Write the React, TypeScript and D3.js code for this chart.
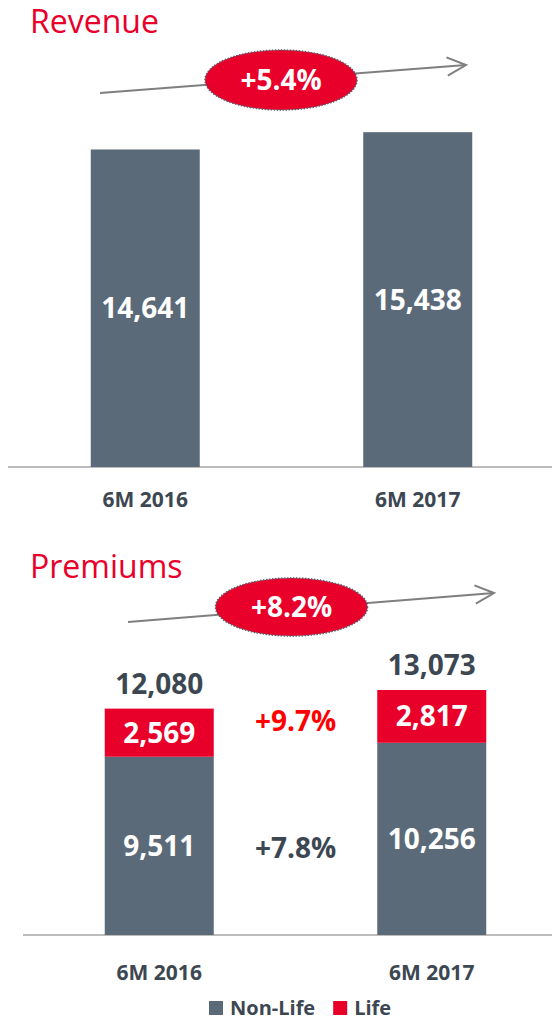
import { useEffect, useRef } from 'react'
import * as d3 from 'd3'

const categories = ['6M 2016', '6M 2017']
const revenue = [14641, 15438]
const nonLife = [9511, 10256]
const life = [2569, 2817]
const premiumTotals = [12080, 13073]
const revenueGrowth = '+5.4%'
const premiumGrowth = '+8.2%'
const nonLifeGrowth = '+7.8%'
const lifeGrowth = '+9.7%'
const legendLabels = ['Non-Life', 'Life']

const GRAY = '#5b6a79'
const DARK = '#3c4752'
const RED = '#e8002a'
const FONT = "'Open Sans', sans-serif"

function App() {
    const ref = useRef<SVGSVGElement>(null)

    useEffect(() => {
        const svg = d3.select(ref.current)
        svg.selectAll('*').remove()

        const fmt = d3.format(',')

        // growth arrow with the dotted red bubble
        const growthArrow = (x1, y1, x2, y2, cx, cy, rx, ry, label) => {
            svg.append('line')
                .attr('x1', x1).attr('y1', y1).attr('x2', x2).attr('y2', y2)
                .style('stroke', '#7f7f7f').style('stroke-width', 2)
            const ang = Math.atan2(y2 - y1, x2 - x1)
            const head = 21
            const spread = 0.45
            svg.append('path')
                .attr('d', d3.line()([
                    [x2 - head * Math.cos(ang - spread), y2 - head * Math.sin(ang - spread)],
                    [x2, y2],
                    [x2 - head * Math.cos(ang + spread), y2 - head * Math.sin(ang + spread)],
                ]))
                .style('fill', 'none').style('stroke', '#7f7f7f').style('stroke-width', 2)
            svg.append('ellipse')
                .attr('cx', cx).attr('cy', cy).attr('rx', rx).attr('ry', ry)
                .style('fill', RED).style('stroke', '#4f6070')
                .style('stroke-width', 1.5).style('stroke-dasharray', '1.5 1.5')
            svg.append('text')
                .attr('x', cx).attr('y', cy).attr('dy', '0.36em')
                .style('text-anchor', 'middle').style('font-family', FONT)
                .style('font-weight', 700).style('font-size', '28px').style('fill', '#fff')
                .text(label)
        }

        const title = (y, label) => {
            svg.append('text')
                .attr('x', 30).attr('y', y)
                .style('font-family', FONT).style('font-size', '32px').style('fill', RED)
                .text(label)
        }

        const valueLabel = (x, y, label, color, size = 28) => {
            svg.append('text')
                .attr('x', x).attr('y', y).attr('dy', '0.36em')
                .style('text-anchor', 'middle').style('font-family', FONT)
                .style('font-weight', 700).style('font-size', `${size}px`).style('fill', color)
                .text(label)
        }

        // ---------- Revenue ----------
        title(33, 'Revenue')
        growthArrow(100, 93, 466, 65, 281, 80, 76, 30, revenueGrowth)

        const xRev = d3.scaleBand().domain(categories).range([9, 554])
            .paddingInner(0.6).paddingOuter(0.3)
        const yRev = d3.scaleLinear().domain([0, 16000]).range([467, 120])

        svg.append('line')
            .attr('x1', 8).attr('x2', 552).attr('y1', yRev(0)).attr('y2', yRev(0))
            .style('stroke', '#a6a6a6').style('stroke-width', 1.5)

        categories.forEach((c, i) => {
            svg.append('rect')
                .attr('x', xRev(c)).attr('width', xRev.bandwidth())
                .attr('y', yRev(revenue[i])).attr('height', yRev(0) - yRev(revenue[i]))
                .style('fill', GRAY)
            valueLabel(xRev(c) + xRev.bandwidth() / 2, (yRev(revenue[i]) + yRev(0)) / 2, fmt(revenue[i]), '#fff')
            svg.append('text')
                .attr('x', xRev(c) + xRev.bandwidth() / 2).attr('y', 507)
                .style('text-anchor', 'middle').style('font-family', FONT)
                .style('font-weight', 700).style('font-size', '21px').style('fill', DARK)
                .text(c)
        })

        // ---------- Premiums ----------
        title(578, 'Premiums')
        growthArrow(128, 622, 494, 593, 291.5, 607, 76, 29, premiumGrowth)

        const xPrem = d3.scaleBand().domain(categories).range([23, 568])
            .paddingInner(0.6).paddingOuter(0.3)
        const yPrem = d3.scaleLinear().domain([0, 13073]).range([935, 690])

        svg.append('line')
            .attr('x1', 23).attr('x2', 552).attr('y1', yPrem(0)).attr('y2', yPrem(0))
            .style('stroke', '#a6a6a6').style('stroke-width', 1.5)

        const stack = d3.stack().keys(['nonLife', 'life'])(
            categories.map((c, i) => ({ cat: c, nonLife: nonLife[i], life: life[i] }))
        )
        const colors = [GRAY, RED]

        stack.forEach((layer, k) => {
            layer.forEach((d, i) => {
                const c = categories[i]
                svg.append('rect')
                    .attr('x', xPrem(c)).attr('width', xPrem.bandwidth())
                    .attr('y', yPrem(d[1])).attr('height', yPrem(d[0]) - yPrem(d[1]))
                    .style('fill', colors[k])
                valueLabel(xPrem(c) + xPrem.bandwidth() / 2, (yPrem(d[0]) + yPrem(d[1])) / 2,
                    fmt(d[1] - d[0]), '#fff')
            })
        })

        categories.forEach((c, i) => {
            const cx = xPrem(c) + xPrem.bandwidth() / 2
            valueLabel(cx, yPrem(premiumTotals[i]) - 25, fmt(premiumTotals[i]), DARK)
            svg.append('text')
                .attr('x', cx).attr('y', 980)
                .style('text-anchor', 'middle').style('font-family', FONT)
                .style('font-weight', 700).style('font-size', '21px').style('fill', DARK)
                .text(c)
        })

        // growth per segment, between the two bars
        const midX = (xPrem(categories[0]) + xPrem(categories[1]) + xPrem.bandwidth()) / 2
        const lifeMid = stack[1].map(d => (yPrem(d[0]) + yPrem(d[1])) / 2)
        valueLabel(midX, d3.mean(lifeMid) - 4, lifeGrowth, '#ff0000')
        valueLabel(midX, (yPrem(nonLife[0]) + yPrem(0)) / 2 + 2, nonLifeGrowth, DARK)

        // legend
        const legend = svg.append('g').attr('transform', 'translate(209, 1001)')
        let lx = 0
        legendLabels.forEach((l, i) => {
            legend.append('rect').attr('x', lx).attr('y', 0).attr('width', 14).attr('height', 14)
                .style('fill', colors[i])
            const t = legend.append('text')
                .attr('x', lx + 21).attr('y', 14)
                .style('font-family', FONT).style('font-weight', 700)
                .style('font-size', '20px').style('fill', DARK)
                .text(l)
            lx += 21 + (t.node() as SVGTextElement).getComputedTextLength() + 18
        })
    })

    return (
        <svg ref={ref} width={552} height={1020}
            style={{ position: 'absolute', left: 0, top: 0, background: '#fff' }} />
    )
}

export default App
